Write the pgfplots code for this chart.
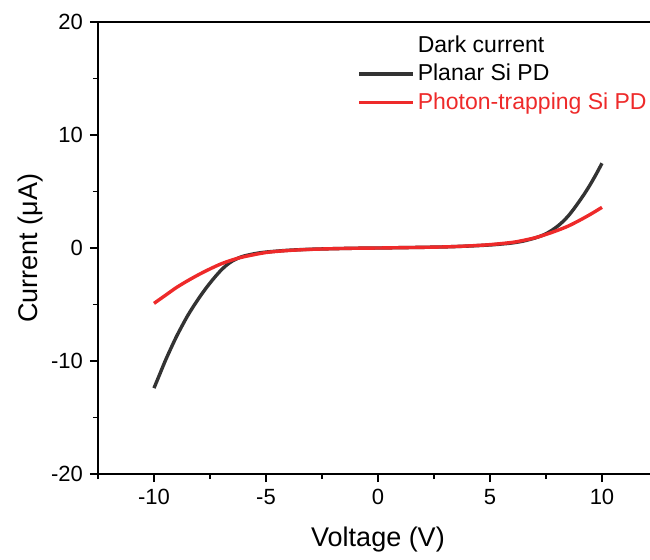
\documentclass[border=0pt]{standalone}
\usepackage{pgfplots}
\pgfplotsset{compat=1.18}
\usepackage{fontspec}
\setmainfont{Liberation Sans}
\definecolor{darkc}{HTML}{333333}
\definecolor{redc}{HTML}{EE2A2A}
\begin{document}
\begin{tikzpicture}
\begin{axis}[
  scale only axis, width=280pt, height=226pt,
  at={(0,0)}, anchor=south west,
  xmin=-12.5, xmax=12.5, ymin=-20, ymax=20,
  xtick={-10,-5,0,5,10}, ytick={-20,-10,0,10,20},
  minor xtick={-12.5,-7.5,-2.5,2.5,7.5,12.5},
  minor ytick={-15,-5,5,15},
  tick pos=left, tick align=outside,
  major tick length=4pt, minor tick length=2.5pt,
  every tick/.style={black, line width=0.9pt},
  axis line style={line width=1pt},
  /pgf/number format/assume math mode=true,
  ticklabel style={font=\fontsize{11}{13}\selectfont},
  xlabel={Voltage (V)}, ylabel={Current (μA)},
  every axis x label/.style={at={(axis description cs:0.5,-0.146)}, anchor=center, font=\fontsize{13.5}{16}\selectfont},
  every axis y label/.style={at={(axis description cs:-0.1214,0.5)}, anchor=center, rotate=90, font=\fontsize{13.5}{16}\selectfont},
  legend style={draw=none, fill=none, at={(0.4625,0.978)}, anchor=north west,
    inner sep=0pt, row sep=1.5pt, font=\fontsize{11.5}{13}\selectfont,
    nodes={inner sep=1.5pt}},
  legend cell align=left,
  legend image code/.code={\draw[#1] (0pt,0pt) -- (27pt,0pt);},
]
\addlegendimage{empty legend}
\addlegendentry{Dark current}
\addplot[darkc, line width=1.7pt, smooth] coordinates {
(-10,-12.4) (-9.75,-11.2) (-9.5,-10.0) (-9.25,-8.9) (-9,-7.85) (-8.75,-6.9) (-8.5,-6.0) (-8.25,-5.2) (-8,-4.45) (-7.75,-3.75) (-7.5,-3.1) (-7.25,-2.5) (-7,-1.95) (-6.75,-1.5) (-6.5,-1.15) (-6.25,-0.9) (-6,-0.72) (-5.5,-0.5) (-5,-0.36) (-4,-0.2) (-3,-0.11) (-2,-0.06) (-1,-0.02) (0,0) (1,0.03) (2,0.06) (3,0.1) (4,0.17) (5,0.27) (5.5,0.35) (6,0.45) (6.5,0.62) (7,0.88) (7.25,1.05) (7.5,1.26) (7.75,1.55) (8,1.9) (8.25,2.33) (8.5,2.85) (8.75,3.48) (9,4.17) (9.25,4.9) (9.5,5.7) (9.75,6.57) (10,7.5)};
\addlegendentry{Planar Si PD}
\addplot[redc, line width=1.7pt, smooth] coordinates {
(-10,-4.9) (-9.5,-4.2) (-9,-3.5) (-8.5,-2.9) (-8,-2.35) (-7.5,-1.85) (-7,-1.4) (-6.5,-1.05) (-6,-0.78) (-5,-0.4) (-4,-0.22) (-3,-0.12) (-2,-0.06) (-1,-0.02) (0,0) (1,0.03) (2,0.06) (3,0.1) (4,0.18) (5,0.3) (6,0.5) (6.5,0.68) (7,0.9) (7.5,1.2) (8,1.55) (8.5,1.95) (9,2.45) (9.5,3.0) (10,3.6)};
\addlegendentry{\textcolor{redc}{Photon-trapping Si PD}}
\end{axis}
\pgfresetboundingbox
\useasboundingbox (-49pt,-42.5pt) rectangle (276pt,237pt);
\end{tikzpicture}
\end{document}
